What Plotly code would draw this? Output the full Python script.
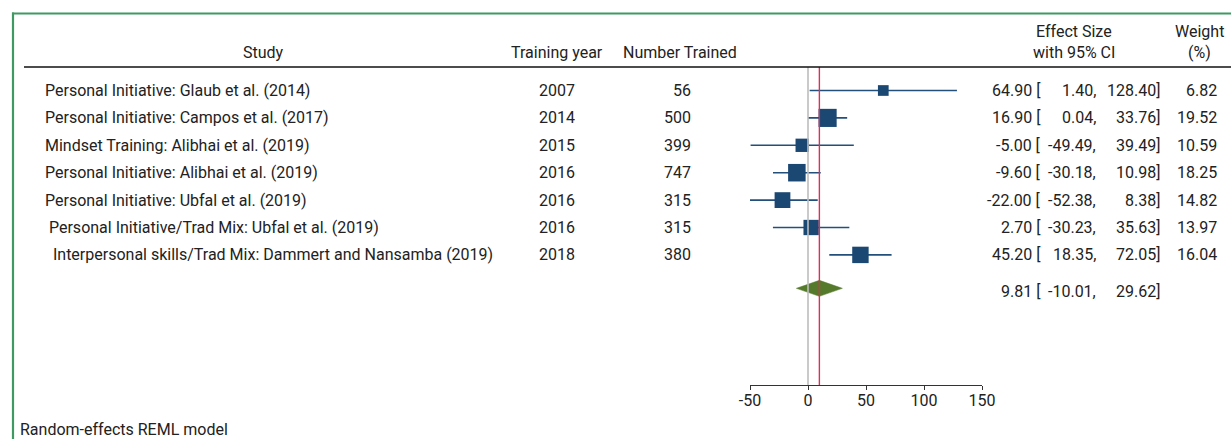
import numpy as np
import plotly.graph_objects as go

# ---------------- data ----------------
studies = [
    "Personal Initiative: Glaub et al. (2014)",
    "Personal Initiative: Campos et al. (2017)",
    "Mindset Training: Alibhai et al. (2019)",
    "Personal Initiative: Alibhai et al. (2019)",
    "Personal Initiative: Ubfal et al. (2019)",
    "\u00a0Personal Initiative/Trad Mix: Ubfal et al. (2019)",
    "\u00a0\u00a0Interpersonal skills/Trad Mix: Dammert and Nansamba (2019)",
]
training_year = [2007, 2014, 2015, 2016, 2016, 2016, 2018]
number_trained = [56, 500, 399, 747, 315, 315, 380]
effect = [64.90, 16.90, -5.00, -9.60, -22.00, 2.70, 45.20]
ci_low = [1.40, 0.04, -49.49, -30.18, -52.38, -30.23, 18.35]
ci_high = [128.40, 33.76, 39.49, 10.98, 8.38, 35.63, 72.05]
weight = [6.82, 19.52, 10.59, 18.25, 14.82, 13.97, 16.04]
pooled_es, pooled_lo, pooled_hi = 9.81, -10.01, 29.62
x_ticks = [-50, 0, 50, 100, 150]
footnote = "Random-effects REML model"

# ---------------- layout constants ----------------
W, H = 1231, 439
FONT = "Roboto"
FS = 16
TXT = "#222222"
BLUE = "#1b4872"
rows = list(range(len(studies)))
pooled_row = 7.22
row_px0, row_step = 90.5, 27.4
axis_px = 385
y_top = (0 - row_px0) / row_step
y_bot = (axis_px - row_px0) / row_step
header_line_y = (67 - row_px0) / row_step


def px2paper_x(px):
    return px / W


def px2paper_y(py):
    return 1 - py / H


fig = go.Figure()

# study markers with CI
fig.add_trace(go.Scatter(
    x=effect, y=rows, mode="markers",
    marker=dict(symbol="square", size=[4.1 * np.sqrt(w) for w in weight],
                color=BLUE, opacity=1, line=dict(width=0)),
    error_x=dict(type="data", symmetric=False,
                 array=[h - e for h, e in zip(ci_high, effect)],
                 arrayminus=[e - l for e, l in zip(effect, ci_low)],
                 color="#234f7b", thickness=1.6, width=0),
    hoverinfo="skip",
))

# pooled diamond
hh = 8 / row_step
fig.add_trace(go.Scatter(
    x=[pooled_lo, pooled_es, pooled_hi, pooled_es, pooled_lo],
    y=[pooled_row, pooled_row - hh, pooled_row, pooled_row + hh, pooled_row],
    mode="lines", fill="toself", fillcolor="#567a2c",
    line=dict(color="#567a2c", width=0.5), hoverinfo="skip",
))

shapes = []
# reference lines
shapes.append(dict(type="line", xref="x", yref="y", x0=0, x1=0,
                   y0=header_line_y, y1=y_bot, line=dict(color="#bdbdbd", width=1.6)))
shapes.append(dict(type="line", xref="x", yref="y", x0=pooled_es, x1=pooled_es,
                   y0=header_line_y, y1=y_bot, line=dict(color="#dc2f5c", width=1.4)))
# header rule
shapes.append(dict(type="line", xref="paper", yref="y", x0=px2paper_x(24), x1=1,
                   y0=header_line_y, y1=header_line_y, line=dict(color="#111111", width=1.5)))
# green frame (left + top)
shapes.append(dict(type="line", xref="paper", yref="paper", x0=px2paper_x(13), x1=px2paper_x(13),
                   y0=px2paper_y(12.5), y1=0, line=dict(color="#3e9a62", width=2.2)))
shapes.append(dict(type="line", xref="paper", yref="paper", x0=px2paper_x(12), x1=1,
                   y0=px2paper_y(13.5), y1=px2paper_y(13.5), line=dict(color="#3e9a62", width=2.2)))

ann = []


def txt(x_px, y, s, anchor, yref="y"):
    ann.append(dict(x=px2paper_x(x_px), y=y, xref="paper", yref=yref, text=s,
                    showarrow=False, xanchor=anchor, yanchor="middle",
                    font=dict(family=FONT, size=FS, color=TXT)))


# headers
hy1 = px2paper_y(31)
hy2 = px2paper_y(53)
txt(263, hy2, "Study", "center", "paper")
txt(557, hy2, "Training year", "center", "paper")
txt(680, hy2, "Number Trained", "center", "paper")
txt(1074, hy1, "Effect Size", "center", "paper")
txt(1074, hy2, "with 95% CI", "center", "paper")
txt(1199, hy1, "Weight", "center", "paper")
txt(1199, hy2, "(%)", "center", "paper")

# rows
for i in rows:
    yy = i
    txt(42.5, yy, studies[i], "left")
    txt(557, yy, str(training_year[i]), "center")
    txt(693, yy, str(number_trained[i]), "right")
    txt(1043, yy, f"{effect[i]:.2f} [", "right")
    txt(1098, yy, f"{ci_low[i]:.2f},", "right")
    txt(1162, yy, f"{ci_high[i]:.2f}]", "right")
    txt(1219, yy, f"{weight[i]:.2f}", "right")

# pooled row
py = pooled_row + 0.11
txt(1043, py, f"{pooled_es:.2f} [", "right")
txt(1098, py, f"{pooled_lo:.2f},", "right")
txt(1162, py, f"{pooled_hi:.2f}]", "right")

# footnote
txt(18, px2paper_y(429), footnote, "left", "paper")

fig.update_layout(
    width=W, height=H, margin=dict(l=0, r=0, t=0, b=0, pad=0, autoexpand=False),
    paper_bgcolor="white", plot_bgcolor="white", showlegend=False,
    shapes=shapes, annotations=ann,
    xaxis=dict(domain=[px2paper_x(750), px2paper_x(982)], range=[-50, 150],
               tickvals=x_ticks, ticktext=[str(t) for t in x_ticks],
               showgrid=False, zeroline=False, showline=True, linecolor="#333333",
               linewidth=1.2, ticks="outside", ticklen=4, tickcolor="#333333",
               tickwidth=1.2, automargin=False, ticklabelstandoff=-3,
               tickfont=dict(family=FONT, size=FS, color=TXT)),
    yaxis=dict(domain=[1 - axis_px / H, 1], range=[y_bot, y_top], visible=False,
               showgrid=False, zeroline=False, automargin=False),
)

fig.write_html(
    "out.html",
    config={"displayModeBar": False},
    post_script="document.body.style.margin='0';document.body.style.overflow='hidden';",
)
